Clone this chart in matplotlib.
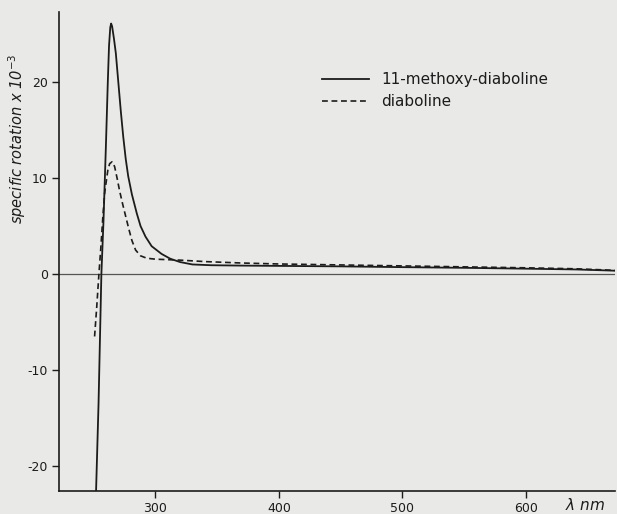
import numpy as np
import matplotlib
matplotlib.use("Agg")
import matplotlib.pyplot as plt

plt.rcParams["axes.unicode_minus"] = False

# wavelength (nm) and specific rotation x 10^-3
wl_methoxy = [252, 254, 256.3, 258, 260, 261.5, 262.5, 263.5, 264.2, 265, 266.5,
              268, 270, 272, 274, 276, 278, 281, 285, 288, 292, 297, 305, 312,
              320, 330, 345, 370, 400, 450, 500, 550, 600, 640, 660, 672]
rot_methoxy = [-22.6, -13.5, 0, 5.5, 13.5, 20, 23.8, 25.7, 26.1, 25.8, 24.5,
               23, 20, 17, 14.3, 12, 10.2, 8.3, 6.3, 5.0, 3.9, 2.9, 2.1, 1.6,
               1.25, 1.0, 0.92, 0.88, 0.85, 0.8, 0.72, 0.65, 0.56, 0.48, 0.4, 0.35]

wl_diab = [250.8, 252.5, 254.3, 256, 257.5, 259, 261.5, 263, 265, 267, 269,
           271, 273.5, 276, 278.5, 281, 284, 288, 293, 300, 310, 320, 340, 370,
           400, 450, 500, 550, 600, 640, 660, 672]
rot_diab = [-6.5, -3.5, 0, 3, 6, 8.5, 10.8, 11.5, 11.7, 11.2, 10,
            8.7, 7.3, 6.0, 4.7, 3.5, 2.5, 1.9, 1.65, 1.55, 1.5, 1.45, 1.3, 1.15,
            1.05, 0.95, 0.85, 0.75, 0.65, 0.55, 0.45, 0.38]

yticks = [-20, -10, 0, 10, 20]
xticks = [300, 400, 500, 600]

ink = "#1c1c1c"
paper = "#e9e9e7"

fig = plt.figure(figsize=(6.17, 5.14), dpi=100, facecolor=paper)
ax = fig.add_axes([59 / 617, 23 / 514, 556 / 617, 479 / 514], facecolor=paper)

ax.axhline(0, color="#555555", lw=0.9)
ax.plot(wl_methoxy, rot_methoxy, color=ink, lw=1.3, label="11-methoxy-diaboline")
ax.plot(wl_diab, rot_diab, color=ink, lw=1.2, dashes=(3.5, 2.2), label="diaboline")

ax.set_xlim(222, 672)
ax.set_ylim(-22.6, 27.3)
ax.set_xticks(xticks)
ax.set_yticks(yticks)

for s in ["top", "right"]:
    ax.spines[s].set_visible(False)
for s in ["left", "bottom"]:
    ax.spines[s].set_color(ink)
    ax.spines[s].set_linewidth(1.2)
ax.tick_params(direction="out", length=5, width=1, colors=ink, labelsize=9, pad=3)

ax.set_ylabel("specific rotation x 10$^{-3}$", fontsize=10.5, style="italic", color=ink)
ax.yaxis.set_label_coords(-0.056, 0.735)
fig.text(585 / 617, 1 - 505 / 514, r"$\lambda$ nm", fontsize=11, style="italic",
         color=ink, ha="center", va="center")

ax.legend(loc="upper left", bbox_to_anchor=(322 / 617, 1 - 72 / 514),
          bbox_transform=fig.transFigure, frameon=False, fontsize=11,
          handlelength=3.1, handletextpad=0.8, labelspacing=0.45,
          borderaxespad=0, borderpad=0, labelcolor=ink)

fig.savefig("out.png", dpi=100, facecolor=paper)
